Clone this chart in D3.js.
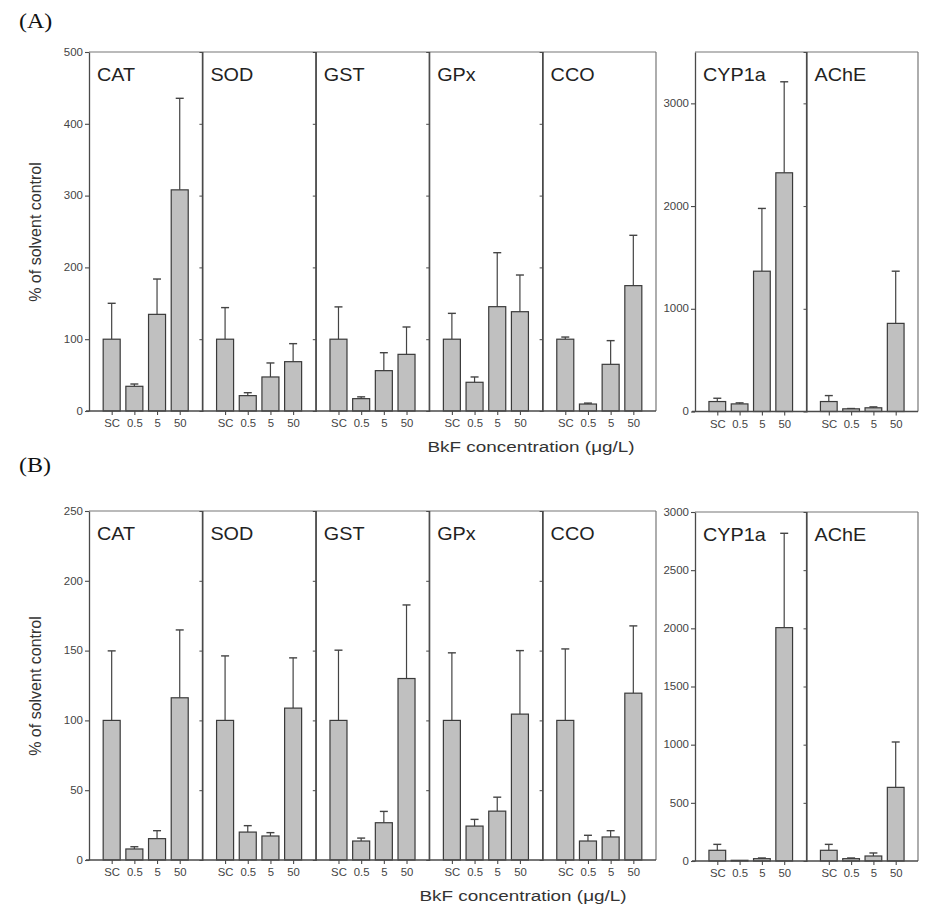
<!DOCTYPE html>
<html>
<head>
<meta charset="utf-8">
<script src="https://cdn.jsdelivr.net/npm/d3@7/dist/d3.min.js"></script>
<style>
  html, body { margin: 0; padding: 0; background: #fff; }
  svg { display: block; font-family: "Liberation Sans", Arial, sans-serif; }
</style>
</head>
<body>
<svg id="chart" width="942" height="910"></svg>
<script>
// ---------- DATA ----------
const concentrations = ["SC", "0.5", "5", "50"];
const enzymesLeft = ["CAT", "SOD", "GST", "GPx", "CCO"];
const enzymesRight = ["CYP1a", "AChE"];

// Panel (A): mean % of solvent control, and SD (error bar length)
const meanA_CAT   = [100, 34.4, 134.6, 308];
const sdA_CAT     = [50, 3.2, 49.2, 127.5];
const meanA_SOD   = [100, 21.4, 47.4, 68.7];
const sdA_SOD     = [44, 4.1, 19.5, 25.1];
const meanA_GST   = [100, 17.2, 56.2, 78.9];
const sdA_GST     = [45, 2.5, 25, 38.1];
const meanA_GPx   = [100, 40, 145.3, 138.3];
const sdA_GPx     = [36, 7.4, 75.2, 51.1];
const meanA_CCO   = [100, 9.7, 65, 174.6];
const sdA_CCO     = [3, 1.3, 33, 70.1];
const meanA_CYP1a = [97, 74, 1366, 2324];
const sdA_CYP1a   = [32, 10, 611, 886];
const meanA_AChE  = [97, 26, 36, 858];
const sdA_AChE    = [58, 3, 9, 508];

// Panel (B)
const meanB_CAT   = [100, 7.9, 15.3, 116.2];
const sdB_CAT     = [49.8, 1.6, 5.7, 48.6];
const meanB_SOD   = [100, 20, 17.2, 108.8];
const sdB_SOD     = [46.2, 4.6, 2.4, 36];
const meanB_GST   = [100, 13.6, 26.7, 130];
const sdB_GST     = [50.3, 2.1, 8.1, 52.7];
const meanB_GPx   = [100, 24.3, 35, 104.5];
const sdB_GPx     = [48.4, 4.8, 10, 45.5];
const meanB_CCO   = [100, 13.6, 16.5, 119.5];
const sdB_CCO     = [51.2, 4.1, 4.5, 48.2];
const meanB_CYP1a = [92, 6, 20, 2006];
const sdB_CYP1a   = [51, 0, 6, 811];
const meanB_AChE  = [92, 20, 43, 633];
const sdB_AChE    = [51, 6, 26, 390];

// Axis ticks
const ticksA_left  = [0, 100, 200, 300, 400, 500];
const ticksA_right = [0, 1000, 2000, 3000];
const ticksB_left  = [0, 50, 100, 150, 200, 250];
const ticksB_right = [0, 500, 1000, 1500, 2000, 2500, 3000];

const panelLetters = ["(A)", "(B)"];
const yTitle = "% of solvent control";
const xTitle = "BkF concentration (\u03bcg/L)";

// ---------- BUILD ----------
const dataA = {
  CAT: [meanA_CAT, sdA_CAT], SOD: [meanA_SOD, sdA_SOD], GST: [meanA_GST, sdA_GST],
  GPx: [meanA_GPx, sdA_GPx], CCO: [meanA_CCO, sdA_CCO],
  CYP1a: [meanA_CYP1a, sdA_CYP1a], AChE: [meanA_AChE, sdA_AChE]
};
const dataB = {
  CAT: [meanB_CAT, sdB_CAT], SOD: [meanB_SOD, sdB_SOD], GST: [meanB_GST, sdB_GST],
  GPx: [meanB_GPx, sdB_GPx], CCO: [meanB_CCO, sdB_CCO],
  CYP1a: [meanB_CYP1a, sdB_CYP1a], AChE: [meanB_AChE, sdB_AChE]
};

const svg = d3.select("#chart");
const axisColor = "#4a4a4a";
const textColor = "#333";

const panels = [
  { letter: panelLetters[0], data: dataA, letterY: 28, xTitleX: 531, xTitleY: 452, yTitleY: 232,
    groups: [
      { enz: enzymesLeft, x0: 89, x1: 656, top: 52, bot: 411, max: 500, ticks: ticksA_left },
      { enz: enzymesRight, x0: 695, x1: 918, top: 52, bot: 411.5, max: 3500, ticks: ticksA_right }
    ] },
  { letter: panelLetters[1], data: dataB, letterY: 472, xTitleX: 523, xTitleY: 901, yTitleY: 686,
    groups: [
      { enz: enzymesLeft, x0: 89, x1: 656, top: 511, bot: 860, max: 250, ticks: ticksB_left },
      { enz: enzymesRight, x0: 695, x1: 918, top: 512, bot: 861, max: 3000, ticks: ticksB_right }
    ] }
];

panels.forEach(p => {
  // Panel letter
  svg.append("text")
    .attr("transform", `translate(19,${p.letterY}) scale(1.2,1)`)
    .attr("font-family", "'Liberation Serif', 'Times New Roman', serif")
    .attr("font-size", 20)
    .attr("fill", "#111")
    .text(p.letter);

  // Y title
  svg.append("text")
    .attr("transform", `translate(41,${p.yTitleY}) rotate(-90)`)
    .attr("text-anchor", "middle")
    .attr("font-size", 16)
    .attr("fill", textColor)
    .text(yTitle);

  // X title
  svg.append("text")
    .attr("transform", `translate(${p.xTitleX},${p.xTitleY}) scale(1.22,1)`)
    .attr("text-anchor", "middle")
    .attr("font-size", 15.5)
    .attr("fill", textColor)
    .text(xTitle);

  p.groups.forEach(g => {
    const y = d3.scaleLinear().domain([0, g.max]).range([g.bot, g.top]);
    const sub = d3.scaleBand().domain(g.enz).range([g.x0, g.x1]);
    const G = svg.append("g");

    // Outer top border
    G.append("line")
      .attr("x1", g.x0).attr("x2", g.x1).attr("y1", g.top).attr("y2", g.top)
      .attr("stroke", "#777").attr("stroke-width", 1.2);

    // Left y axis with labels
    const yAxis = d3.axisLeft(y).tickValues(g.ticks).tickSize(4).tickSizeOuter(0)
      .tickFormat(d3.format("d"));
    const ya = G.append("g").attr("transform", `translate(${g.x0},0)`).call(yAxis);
    ya.select(".domain").attr("stroke", axisColor).attr("stroke-width", 1.3);
    ya.selectAll(".tick line").attr("stroke", axisColor).attr("stroke-width", 1.1);
    ya.selectAll(".tick text").attr("font-size", 10).attr("fill", "#444")
      .attr("font-family", "'Liberation Sans', Arial, sans-serif")
      .attr("transform", "scale(1.15,1)").attr("x", -6 / 1.15);

    g.enz.forEach((enz, i) => {
      const px0 = sub(enz), px1 = px0 + sub.bandwidth();
      const x = d3.scalePoint().domain(concentrations).range([px0, px1]).padding(1);
      const step = x.step();
      const bw = step * 0.75;
      const [means, sds] = p.data[enz];
      const rows = concentrations.map((c, k) => ({ c, m: means[k], sd: sds[k] }));

      // separator / right border
      G.append("line")
        .attr("x1", px1).attr("x2", px1).attr("y1", g.top).attr("y2", g.bot)
        .attr("stroke", i === g.enz.length - 1 ? "#777" : axisColor)
        .attr("stroke-width", 1.2);

      // inner y ticks on separators
      if (i > 0) {
        const ia = d3.axisLeft(y).tickValues(g.ticks.filter(v => v > 0 && v < g.max))
          .tickSize(3).tickFormat("");
        const iag = G.append("g").attr("transform", `translate(${px0},0)`).call(ia);
        iag.select(".domain").attr("stroke", axisColor).attr("stroke-width", 1.2);
        iag.selectAll(".tick line").attr("stroke", axisColor);
      }

      // error bars
      rows.forEach(r => {
        const cx = x(r.c);
        const yt = y(r.m + r.sd);
        if (r.sd > 0) {
          G.append("line").attr("x1", cx).attr("x2", cx)
            .attr("y1", y(r.m)).attr("y2", yt)
            .attr("stroke", "#444").attr("stroke-width", 1.2);
          G.append("line").attr("x1", cx - 4).attr("x2", cx + 4)
            .attr("y1", yt).attr("y2", yt)
            .attr("stroke", "#444").attr("stroke-width", 1.4);
        }
      });

      // bars
      G.selectAll(null).data(rows).enter().append("rect")
        .attr("x", d => x(d.c) - bw / 2)
        .attr("width", bw)
        .attr("y", d => y(d.m))
        .attr("height", d => g.bot - y(d.m))
        .attr("fill", "#c0c0c0")
        .attr("stroke", "#3a3a3a")
        .attr("stroke-width", 1.2);

      // x axis (ticks below bars)
      const xa = d3.axisBottom(x).tickSize(4).tickSizeOuter(0);
      const xag = G.append("g").attr("transform", `translate(0,${g.bot})`).call(xa);
      xag.select(".domain").remove();
      xag.selectAll(".tick line").attr("stroke", axisColor).attr("stroke-width", 1.1);
      xag.selectAll(".tick text").attr("font-size", 10.5).attr("fill", "#444")
        .attr("font-family", "'Liberation Sans', Arial, sans-serif")
        .attr("transform", "scale(1.08,1)")
        .attr("y", 9);

      // panel label
      G.append("text")
        .attr("transform", `translate(${px0 + 8},${g.top + 29}) scale(1.1,1)`)
        .attr("font-size", 18)
        .attr("fill", "#222")
        .text(enz);
    });

    // bottom axis line across group
    G.append("line")
      .attr("x1", g.x0 - 3).attr("x2", g.x1).attr("y1", g.bot).attr("y2", g.bot)
      .attr("stroke", axisColor).attr("stroke-width", 1.4);
  });
});
</script>
</body>
</html>
